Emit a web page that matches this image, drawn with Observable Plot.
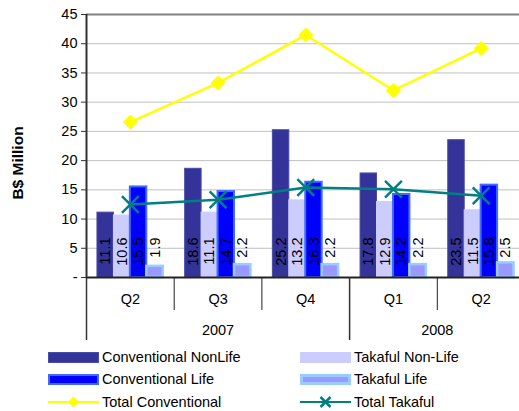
<!DOCTYPE html>
<html><head><meta charset="utf-8">
<script src="https://cdn.jsdelivr.net/npm/d3@7"></script>
<script src="https://cdn.jsdelivr.net/npm/@observablehq/plot@0.6"></script>
<style>
body{margin:0;background:#fff;font-family:"Liberation Sans",Arial,sans-serif;}
#wrap{position:relative;width:519px;height:411px;overflow:hidden;background:#fff;}
.leg{position:absolute;display:flex;align-items:center;font-size:14.5px;color:#000;white-space:nowrap;height:14px;}
.sw{width:51px;height:11px;box-sizing:border-box;margin-right:3px;flex:none;}
.lsw{width:51px;height:14px;margin-right:3px;flex:none;}
</style></head><body><div id="wrap"></div>
<script>
// ---- data ----
const quarters = ["Q2", "Q3", "Q4", "Q1", "Q2"];
const years = ["2007", "2008"];
const yearCenters = [1, 3.5];           // centre of each year's run of quarters (in quarter-index units)
const quarterBoundaries = [0.5, 1.5, 3.5];
const yearBoundaries = [-0.5, 2.5];
const seriesNames = ["Conventional NonLife", "Takaful Non-Life", "Conventional Life", "Takaful Life"];
const conventionalNonLife = [11.1, 18.6, 25.2, 17.8, 23.5];
const takafulNonLife = [10.6, 11.1, 13.2, 12.9, 11.5];
const conventionalLife = [15.5, 14.7, 16.3, 14.2, 15.8];
const takafulLife = [1.9, 2.2, 2.2, 2.2, 2.5];
const totalConventional = [26.6, 33.3, 41.5, 32.0, 39.2];
const totalTakaful = [12.5, 13.3, 15.4, 15.1, 14.0];
const yTicks = [0, 5, 10, 15, 20, 25, 30, 35, 40, 45];

// ---- styles ----
const barStyles = [
  {fill: "#333399", stroke: "#4a4aa8", strokeWidth: 1},
  {fill: "#CCCCFF", stroke: "#CCCCFF", strokeWidth: 1},
  {fill: "#0000FF", stroke: "#3f6cff", strokeWidth: 2},
  {fill: "#9999FF", stroke: "#99CCFF", strokeWidth: 2.5}
];
const seriesValues = [conventionalNonLife, takafulNonLife, conventionalLife, takafulLife];
const groupWidth = 0.75, barW = groupWidth / 4;
const FS = 14.5;

const bars = [];
seriesValues.forEach((vals, j) => vals.forEach((v, i) => {
  const x1 = i - groupWidth / 2 + j * barW;
  bars.push({series: j, i, value: v, x1, x2: x1 + barW, xc: x1 + barW / 2});
}));
const lineConv = totalConventional.map((v, i) => ({i, v}));
const lineTak = totalTakaful.map((v, i) => ({i, v}));

const barMarks = barStyles.map((s, j) =>
  Plot.rectY(bars.filter(d => d.series === j), {x1: "x1", x2: "x2", y1: 0, y2: "value", ...s})
);

const chart = Plot.plot({
  width: 519,
  height: 345,
  marginTop: 14,
  marginBottom: 68,
  marginLeft: 86,
  marginRight: 0,
  style: {fontFamily: "'Liberation Sans', Arial, sans-serif", fontSize: FS + "px", color: "#000", background: "#fff", overflow: "visible"},
  x: {domain: [-0.5, 4.5], range: [86, 524.5]},
  y: {domain: [0, 45], range: [277, 14]},
  marks: [
    Plot.ruleY(yTicks.filter(t => t > 0 && t < 45), {stroke: "#C0C0C0", strokeWidth: 1}),
    Plot.ruleY([45], {stroke: "#808080", strokeWidth: 2}),
    ...barMarks,
    Plot.text(bars, {x: "xc", y: 0, text: d => d.value.toFixed(1), rotate: -90, textAnchor: "end", lineAnchor: "middle", dy: -40, fontSize: FS, fill: "#000"}),
    Plot.line(lineConv, {x: "i", y: "v", stroke: "#FFFF00", strokeWidth: 2.5}),
    Plot.dot(lineConv, {x: "i", y: "v", symbol: "diamond2", r: 6.3, fill: "#FFFF00", stroke: "#FFFF00", strokeWidth: 1}),
    Plot.line(lineTak, {x: "i", y: "v", stroke: "#008080", strokeWidth: 2.5}),
    Plot.dot(lineTak, {x: "i", y: "v", symbol: "times", r: 7.7, stroke: "#008080", strokeWidth: 2.5}),
    Plot.ruleY([0], {stroke: "#222", strokeWidth: 2}),
    Plot.ruleX([-0.5], {stroke: "#333", strokeWidth: 2}),
    Plot.axisY(yTicks, {anchor: "left", tickSize: 5, tickPadding: 4, tickFormat: d => d === 0 ? "-" : String(d), fontSize: FS, stroke: "#333", label: null}),
    Plot.axisX(quarterBoundaries, {anchor: "bottom", tickSize: 33, tickFormat: () => "", stroke: "#222", label: null}),
    Plot.axisX(yearBoundaries, {anchor: "bottom", tickSize: 63, tickFormat: () => "", stroke: "#333", strokeWidth: 1.5, label: null}),
    Plot.axisX([0, 1, 2, 3, 4], {anchor: "bottom", tickSize: 0, tickPadding: 16, tickFormat: i => quarters[i], fontSize: FS, label: null}),
    Plot.axisX(yearCenters, {anchor: "bottom", tickSize: 0, tickPadding: 47, tickFormat: d => years[yearCenters.indexOf(d)], fontSize: FS, label: null}),
    Plot.text(["B$ Million"], {text: d => d, frameAnchor: "left", textAnchor: "middle", lineAnchor: "middle", rotate: -90, dx: -68.5, dy: 17, fontWeight: "bold", fontSize: 15.5, fill: "#000"})
  ]
});
const wrap = document.getElementById("wrap");
wrap.appendChild(chart);

// ---- legend ----
const legendItems = [
  {name: seriesNames[0], kind: "bar", style: barStyles[0], left: 48, top: 350},
  {name: seriesNames[1], kind: "bar", style: barStyles[1], left: 300, top: 350},
  {name: seriesNames[2], kind: "bar", style: barStyles[2], left: 48, top: 372},
  {name: seriesNames[3], kind: "bar", style: barStyles[3], left: 300, top: 372},
  {name: "Total Conventional", kind: "line", color: "#FFFF00", marker: "diamond", left: 48, top: 395},
  {name: "Total Takaful", kind: "line", color: "#008080", marker: "x", left: 300, top: 395}
];
legendItems.forEach(it => {
  const el = document.createElement("div");
  el.className = "leg";
  el.style.left = it.left + "px";
  el.style.top = it.top + "px";
  if (it.kind === "bar") {
    const sw = document.createElement("div");
    sw.className = "sw";
    sw.style.background = it.style.fill;
    sw.style.border = `${Math.max(1, Math.round(it.style.strokeWidth))}px solid ${it.style.stroke}`;
    el.appendChild(sw);
  } else {
    const ns = "http://www.w3.org/2000/svg";
    const svg = document.createElementNS(ns, "svg");
    svg.setAttribute("class", "lsw");
    svg.setAttribute("width", 51); svg.setAttribute("height", 14);
    const ln = document.createElementNS(ns, "line");
    ln.setAttribute("x1", 0); ln.setAttribute("x2", 51); ln.setAttribute("y1", 7); ln.setAttribute("y2", 7);
    ln.setAttribute("stroke", it.color); ln.setAttribute("stroke-width", 2);
    svg.appendChild(ln);
    const p = document.createElementNS(ns, "path");
    if (it.marker === "diamond") {
      p.setAttribute("d", "M25.5,1.5L31,7L25.5,12.5L20,7Z");
      p.setAttribute("fill", it.color);
    } else {
      p.setAttribute("d", "M20.5,2L30.5,12M30.5,2L20.5,12");
      p.setAttribute("stroke", it.color); p.setAttribute("stroke-width", 2.5); p.setAttribute("fill", "none");
    }
    svg.appendChild(p);
    el.appendChild(svg);
  }
  const t = document.createElement("span");
  t.textContent = it.name;
  el.appendChild(t);
  wrap.appendChild(el);
});
</script></body></html>
